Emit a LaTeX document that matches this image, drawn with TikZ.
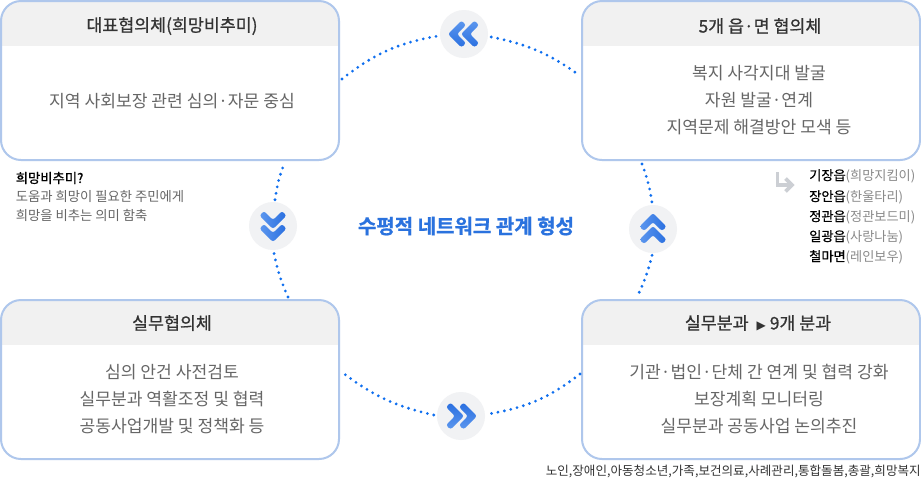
\documentclass[tikz,border=0pt]{standalone}
\usepackage{fontspec}
\newfontfamily\kr{Noto Sans CJK KR}
\newfontfamily\krm{Noto Sans CJK KR}[FakeBold=0.8]
\newfontfamily\krh{Noto Sans CJK KR Bold}[FakeBold=0.8]
\newfontfamily\djv{DejaVu Sans}
\usetikzlibrary{calc}
\definecolor{boxline}{HTML}{AFC7EC}
\definecolor{headfill}{HTML}{F1F1F1}
\definecolor{titletxt}{HTML}{333333}
\definecolor{bodytxt}{HTML}{666666}
\definecolor{dotblue}{HTML}{0F6FEF}
\definecolor{chevdark}{HTML}{2A6FE0}
\definecolor{chevlight}{HTML}{5C97EE}
\definecolor{circfill}{HTML}{F1F2F4}
\definecolor{grayarrow}{HTML}{CCCFD4}
\definecolor{centerblue}{HTML}{2A72DE}
\definecolor{listgray}{HTML}{8A8A8A}
\tikzset{
  x=0.75pt,y=-0.75pt,
  panelbox/.style={draw=boxline,line width=1.5pt,rounded corners=15pt,minimum width=253.5pt,minimum height=119.25pt,inner sep=0pt},
  titletext/.style={text=titletxt,font=\krm\fontsize{13}{15}\selectfont,anchor=center,inner sep=0pt},
  bodytext/.style={text=bodytxt,font=\kr\fontsize{12.85}{20.25}\selectfont,anchor=center,align=center,inner sep=0pt},
  smalltext/.style={text=bodytxt,font=\kr\fontsize{10}{13.5}\selectfont,inner sep=0pt,anchor=west},
  listtext/.style={text=listgray,font=\kr\fontsize{9.9}{13.5}\selectfont,inner sep=0pt,anchor=west},
  dotline/.style={draw=dotblue,line width=2.3pt,line cap=round,dash pattern=on 0pt off 4.9pt},
  circ/.style={circle,fill=circfill,minimum size=36pt,inner sep=0pt},
}
% double chevron, pointing up at rotate 0
\newcommand{\dblchev}[3]{%
 \begin{scope}[shift={(#1)},rotate=#2]
  \foreach \dy in {-7.5,5.5}{
   \shade[#3,rounded corners=1.8pt]
     (-13.5,\dy+5) -- (0,\dy-8.5) -- (13.5,\dy+5) -- (9,\dy+9.5) -- (0,\dy+0.5) -- (-9,\dy+9.5) -- cycle;
  }
 \end{scope}}
\begin{document}
\begin{tikzpicture}
\useasboundingbox (0,0) rectangle (921,487);
\fill[white] (0,0) rectangle (921,487);
% panels
\foreach \nm/\cx/\cy in {pa/170/80.5,pb/751/80.5,pc/170/379.5,pd/751/379.5}{
  \path (\cx-169,\cy-79.5) coordinate (tl) (\cx+169,\cy+79.5) coordinate (br);
  \begin{scope}
   \clip[rounded corners=15pt] (tl) rectangle (br);
   \fill[headfill] (tl) rectangle ($(tl)+(338,45)$);
  \end{scope}
  \node[panelbox] (\nm) at (\cx,\cy) {};
}
% connector circles
\node[circ] (top) at (464,34) {};
\node[circ] (rgt) at (653,229) {};
\node[circ] (bot) at (461,416) {};
\node[circ] (lft) at (273,226) {};
% dotted ring
\draw[dotline] ($(pa.north east)+(2,79)$) to[bend left=14] ($(top.west)+(-2,2)$);
\draw[dotline] ($(top.east)+(3,3)$) to[bend left=12] ($(pb.north west)+(-2,75)$);
\draw[dotline] ($(pb.south west)+(61,3)$) to[bend left=6] ($(rgt.north)+(-1,-2)$);
\draw[dotline] ($(rgt.south)+(-1,2)$) to[bend left=6] ($(pd.north west)+(56,-2)$);
\draw[dotline] ($(pd.north west)+(-1,75)$) to[bend left=14] ($(bot.east)+(3,-2)$);
\draw[dotline] ($(bot.west)+(-3,-1)$) to[bend left=12] ($(pc.north east)+(3,74)$);
\draw[dotline] ($(pc.north east)+(-52,-2)$) to[bend left=6] ($(lft.south)+(1,3)$);
\draw[dotline] ($(lft.north)+(2,-2)$) to[bend left=6] ($(pa.south east)+(-56,3)$);
% chevrons
\dblchev{rgt.center}{0}{left color=chevlight,right color=chevdark}
\dblchev{lft.center}{180}{left color=chevlight,right color=chevdark}
\dblchev{top.center}{90}{top color=chevlight,bottom color=chevdark}
\dblchev{bot.center}{-90}{top color=chevdark,bottom color=chevlight}
% titles
\node[titletext] (t1) at (172,26) {대표협의체(희망비추미)};
\node[titletext] (t2) at (760,26) {5개 읍·면 협의체};
\node[titletext] (t3) at (172,323) {실무협의체};
\node[titletext] (t4) at (758,323) {실무분과\hspace{6pt}{\djv\fontsize{9}{10}\selectfont ▶}\hspace{3pt}9개 분과};
% bodies
\node[bodytext] (b1) at (172,101) {지역 사회보장 관련 심의·자문 중심};
\node[bodytext] (b2) at (759,100) {복지 사각지대 발굴\\자원 발굴·연계\\지역문제 해결방안 모색 등};
\node[bodytext] (b3) at (172,399) {심의 안건 사전검토\\실무분과 역활조정 및 협력\\공동사업개발 및 정책화 등};
\node[bodytext] (b4) at (759,399) {기관·법인·단체 간 연계 및 협력 강화\\보장계획 모니터링\\실무분과 공동사업 논의추진};
% note
\node[smalltext,text=black,font=\krm\fontsize{10}{13.5}\selectfont] (n0) at (15.5,178) {희망비추미?};
\node[smalltext] (n1) at (15.5,197) {도움과 희망이 필요한 주민에게};
\node[smalltext] (n2) at (15.5,215) {희망을 비추는 의미 함축};
% centre
\node[text=centerblue,font=\krh\fontsize{15}{18}\selectfont,inner sep=0pt] (ctr) at (466,226) {수평적 네트워크 관계 형성};
% right list
\coordinate (g1) at (777.5,172);
\coordinate (g2) at (792,185);
\draw[grayarrow,line width=2.7pt] (g1) |- (g2);
\draw[grayarrow,line width=2.7pt,line join=miter] ($(g2)+(-6.5,-6.5)$) -- (g2) -- ($(g2)+(-6.5,6.5)$);
\node[listtext] (l1) at (809,176) {{\color{black}\krm 기장읍}(희망지킴이)};
\node[listtext] (l2) at (809,197) {{\color{black}\krm 장안읍}(한울타리)};
\node[listtext] (l3) at (809,217) {{\color{black}\krm 정관읍}(정관보드미)};
\node[listtext] (l4) at (809,237) {{\color{black}\krm 일광읍}(사랑나눔)};
\node[listtext] (l5) at (809,257) {{\color{black}\krm 철마면}(레인보우)};
% bottom
\node[smalltext,text=titletxt,anchor=east,font=\kr\fontsize{9.43}{12}\selectfont] (foot) at (921,471) {노인,장애인,아동청소년,가족,보건의료,사례관리,통합돌봄,총괄,희망복지};
\end{tikzpicture}
\end{document}
